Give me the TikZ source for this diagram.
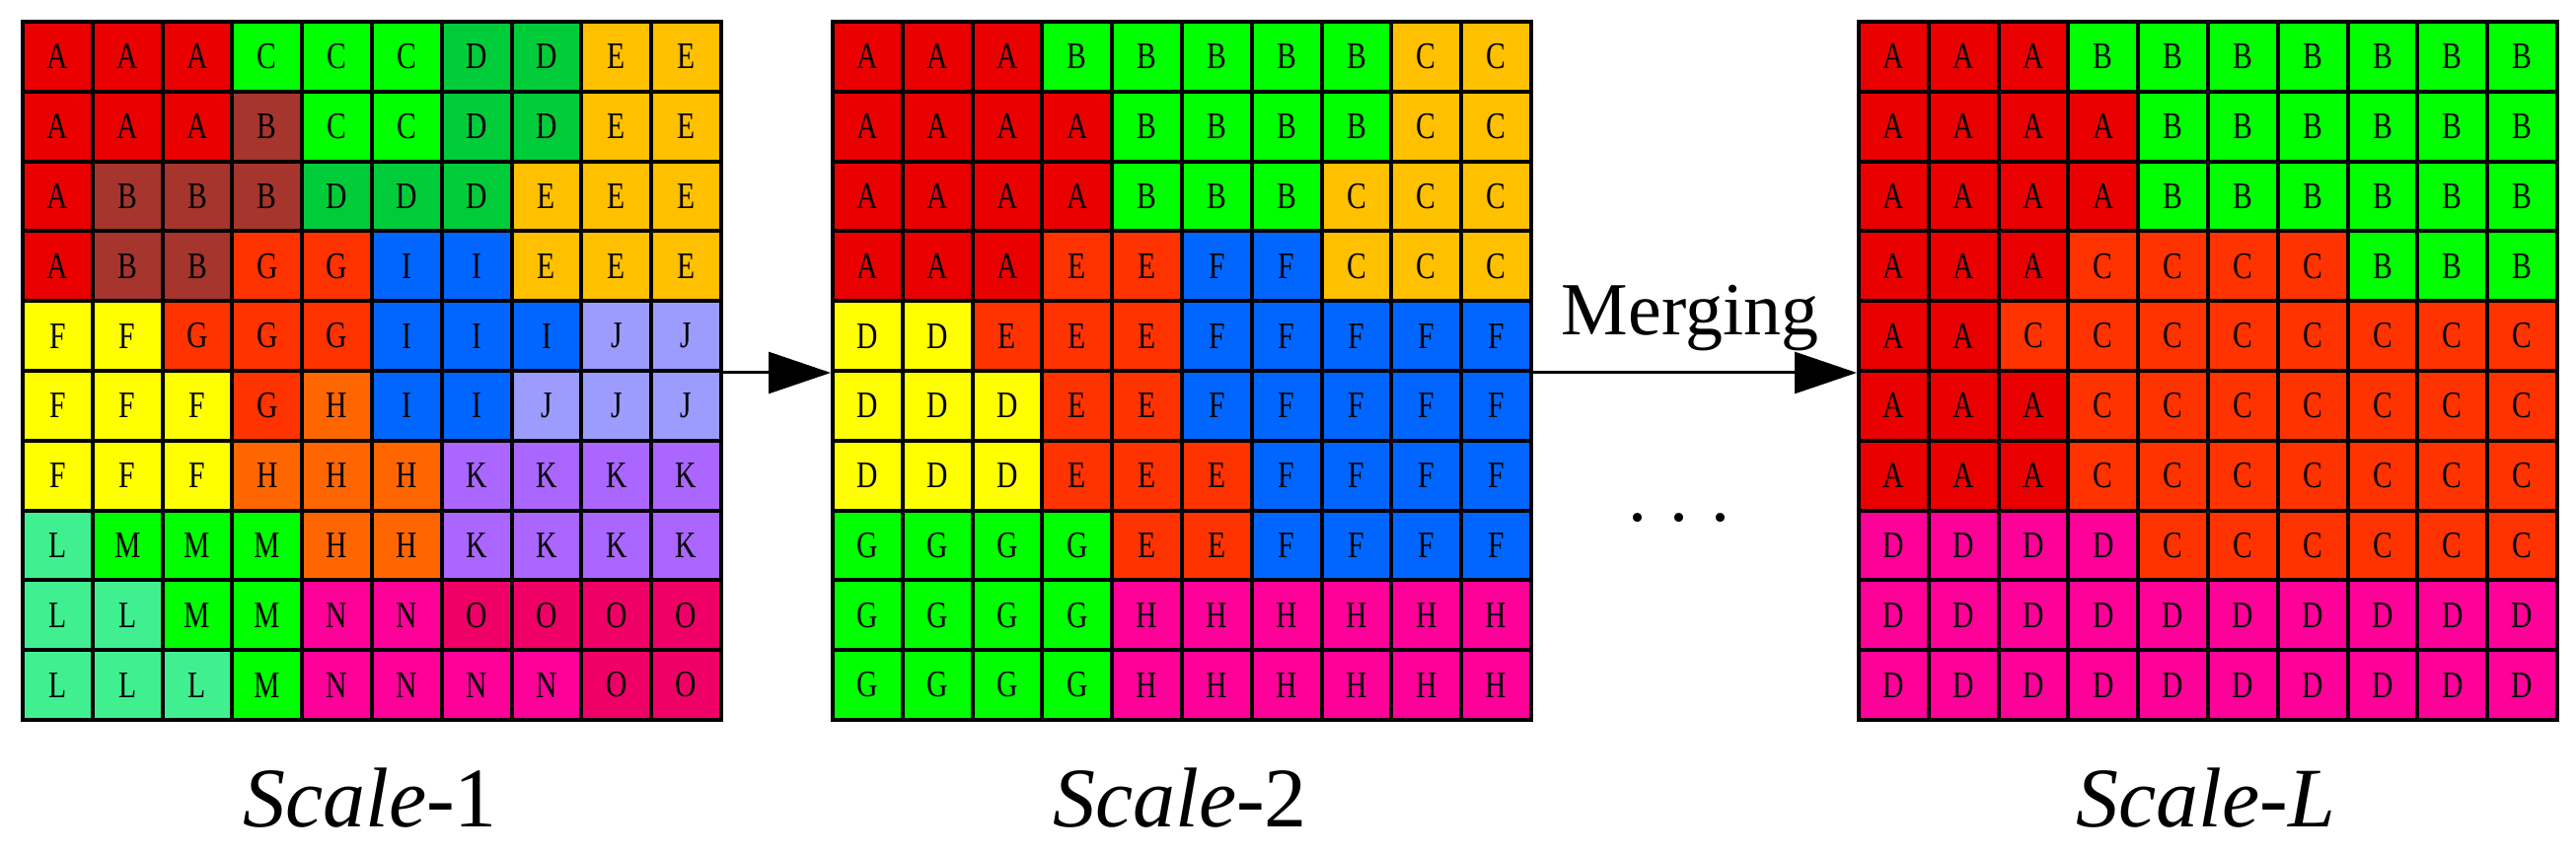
\documentclass[tikz,border=0pt]{standalone}
\usepackage{fontspec}
\setmainfont{Liberation Serif}
\newfontfamily\cellfont{Liberation Serif}[FakeStretch=0.78]
\usetikzlibrary{arrows.meta}
\definecolor{cA}{HTML}{EA0000}
\definecolor{cB}{HTML}{A5352D}
\definecolor{cC}{HTML}{00FF00}
\definecolor{cD}{HTML}{00CC3A}
\definecolor{cE}{HTML}{FFC000}
\definecolor{cF}{HTML}{FFFF00}
\definecolor{cG}{HTML}{FF3300}
\definecolor{cH}{HTML}{FF6600}
\definecolor{cI}{HTML}{0066FF}
\definecolor{cJ}{HTML}{9C9CFF}
\definecolor{cK}{HTML}{AA66FF}
\definecolor{cL}{HTML}{40F090}
\definecolor{cM}{HTML}{00EE00}
\definecolor{cN}{HTML}{FF0099}
\definecolor{cO}{HTML}{EE0066}
\colorlet{aA}{cA}\colorlet{aB}{cB}\colorlet{aC}{cC}\colorlet{aD}{cD}\colorlet{aE}{cE}
\colorlet{aF}{cF}\colorlet{aG}{cG}\colorlet{aH}{cH}\colorlet{aI}{cI}\colorlet{aJ}{cJ}
\colorlet{aK}{cK}\colorlet{aL}{cL}\colorlet{aM}{cC}\colorlet{aN}{cN}\colorlet{aO}{cO}
\colorlet{bA}{cA}\colorlet{bB}{cC}\colorlet{bC}{cE}\colorlet{bD}{cF}\colorlet{bE}{cG}
\colorlet{bF}{cI}\colorlet{bG}{cC}\colorlet{bH}{cN}
\colorlet{dA}{cA}\colorlet{dB}{cC}\colorlet{dC}{cG}\colorlet{dD}{cN}
\tikzset{
  cell/.style={draw=black,line width=4pt,minimum size=70.8pt,inner sep=0pt,anchor=north west,font=\cellfont\fontsize{38}{38}\selectfont},
  conn/.style={line width=3pt,-{Triangle[length=63pt,width=42pt]}},
  caption/.style={anchor=base,font=\fontsize{86}{86}\selectfont,inner sep=0pt}
}
\begin{document}
\begin{tikzpicture}[x=1pt,y=-1pt]
\useasboundingbox (0,0) rectangle (2611,866);
% grid 1
\foreach \row [count=\r] in {
 {A,A,A,C,C,C,D,D,E,E},
 {A,A,A,B,C,C,D,D,E,E},
 {A,B,B,B,D,D,D,E,E,E},
 {A,B,B,G,G,I,I,E,E,E},
 {F,F,G,G,G,I,I,I,J,J},
 {F,F,F,G,H,I,I,J,J,J},
 {F,F,F,H,H,H,K,K,K,K},
 {L,M,M,M,H,H,K,K,K,K},
 {L,L,M,M,N,N,O,O,O,O},
 {L,L,L,M,N,N,N,N,O,O}}{
 \foreach \c [count=\k] in \row {
  \node[cell,fill=a\c] (a-\r-\k) at ({21+(\k-1)*70.8},{20+(\r-1)*70.8}) {\c};
 }}
% grid 2
\foreach \row [count=\r] in {
 {A,A,A,B,B,B,B,B,C,C},
 {A,A,A,A,B,B,B,B,C,C},
 {A,A,A,A,B,B,B,C,C,C},
 {A,A,A,E,E,F,F,C,C,C},
 {D,D,E,E,E,F,F,F,F,F},
 {D,D,D,E,E,F,F,F,F,F},
 {D,D,D,E,E,E,F,F,F,F},
 {G,G,G,G,E,E,F,F,F,F},
 {G,G,G,G,H,H,H,H,H,H},
 {G,G,G,G,H,H,H,H,H,H}}{
 \foreach \c [count=\k] in \row {
  \node[cell,fill=b\c] (b-\r-\k) at ({842+(\k-1)*70.8},{20+(\r-1)*70.8}) {\c};
 }}
% grid 3
\foreach \row [count=\r] in {
 {A,A,A,B,B,B,B,B,B,B},
 {A,A,A,A,B,B,B,B,B,B},
 {A,A,A,A,B,B,B,B,B,B},
 {A,A,A,C,C,C,C,B,B,B},
 {A,A,C,C,C,C,C,C,C,C},
 {A,A,A,C,C,C,C,C,C,C},
 {A,A,A,C,C,C,C,C,C,C},
 {D,D,D,D,C,C,C,C,C,C},
 {D,D,D,D,D,D,D,D,D,D},
 {D,D,D,D,D,D,D,D,D,D}}{
 \foreach \c [count=\k] in \row {
  \node[cell,fill=d\c] (d-\r-\k) at ({1882+(\k-1)*70.8},{20+(\r-1)*70.8}) {\c};
 }}
\draw[conn] (a-5-10.south east) -- (b-5-1.south west);
\draw[conn] (b-5-10.south east) -- (d-5-1.south west);
\node[anchor=base,inner sep=0pt,font=\fontsize{76}{76}\selectfont] (merge) at (1713,340) {Merging};
\node[anchor=base,inner sep=0pt,font=\fontsize{76}{76}\selectfont] (dots) at (1702,528) {.\hspace{0.3em}.\hspace{0.3em}.};
\node[caption] (s1) at (375,838) {\textit{Scale}-1};
\node[caption] (s2) at (1196,838) {\textit{Scale}-2};
\node[caption] (sL) at (2236,838) {\textit{Scale}-\textit{L}};
\end{tikzpicture}
\end{document}
